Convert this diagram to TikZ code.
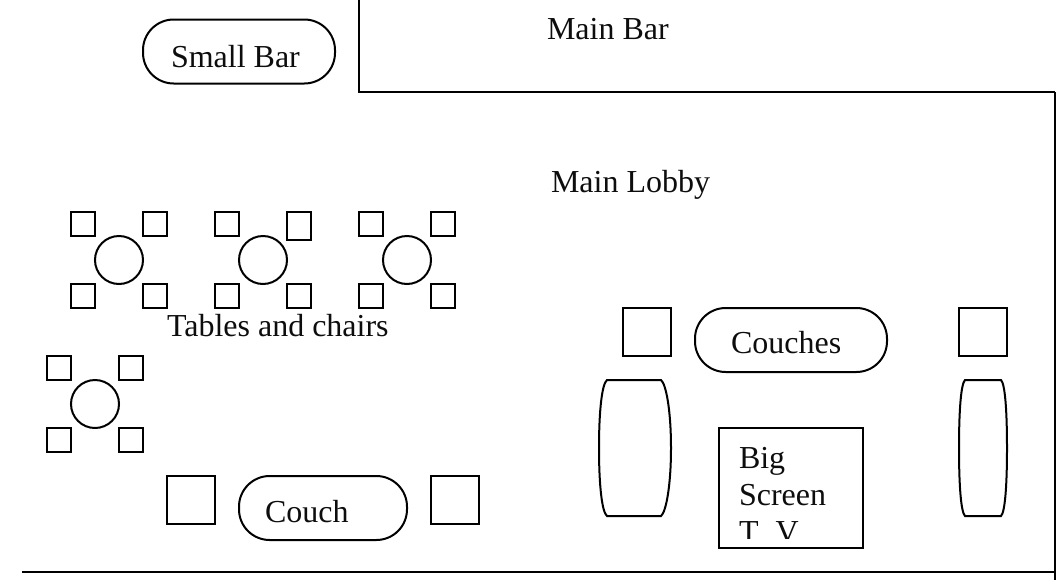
\documentclass[tikz,border=0pt]{standalone}
\usepackage{fontspec}
\setmainfont{Liberation Serif}
\begin{document}
\begin{tikzpicture}[x=0.75pt,y=-0.75pt,
  ln/.style={draw=black,line width=1.5pt},
  pill/.style={ln,rounded corners=23pt},
  label/.style={anchor=base west,inner sep=0pt,outer sep=0pt,font=\fontsize{24pt}{28pt}\selectfont,text=black!95}]
\useasboundingbox (0,0) rectangle (1057,579);
% walls
\draw[ln] (359,-2) -- (359,92) -- (1054.5,92);
\draw[ln] (1054.5,92) -- (1054.5,581);
\draw[ln] (22,571.8) -- (1054.5,571.8);
% bar
\draw[pill] (143,19.5) rectangle (335,83.5);
\node[label] (smallbar) at (171,67) {Small Bar};
\node[label] (mainbar) at (547,39) {Main Bar};
\node[label] (lobby) at (551,192) {Main Lobby};
% tables
\foreach \cx/\cy/\ex in {119/260/0,263/260/4,407/260/0,95/404/0}{
  \draw[ln] (\cx,\cy) circle (24);
  \draw[ln] (\cx-48,\cy-48) rectangle (\cx-24,\cy-24);
  \draw[ln] (\cx+24,\cy-48) rectangle (\cx+48,\cy-24+\ex);
  \draw[ln] (\cx-48,\cy+24) rectangle (\cx-24,\cy+48);
  \draw[ln] (\cx+24,\cy+24) rectangle (\cx+48,\cy+48);
}
\node[label] (tables) at (167,336) {Tables and chairs};
% couch
\draw[ln] (167,476) rectangle (215,524);
\draw[ln] (431,476) rectangle (479,524);
\draw[pill] (239,476) rectangle (407,540);
\node[label] (couch) at (265,522) {Couch};
% couches
\draw[ln] (623,308) rectangle (671,356);
\draw[ln] (959,308) rectangle (1007,356);
\draw[pill] (695,308) rectangle (887,372);
\node[label] (couches) at (731,353) {Couches};
\draw[ln] (607,380) -- (661,380) .. controls (666,384) and (671,410) .. (671,448) .. controls (671,486) and (666,512) .. (661,516) -- (607,516) .. controls (602,512) and (599,486) .. (599,448) .. controls (599,410) and (602,384) .. (607,380) -- cycle;
\draw[ln] (965,380) -- (1001,380) .. controls (1005,384) and (1007,410) .. (1007,448) .. controls (1007,486) and (1005,512) .. (1001,516) -- (965,516) .. controls (961,512) and (959,486) .. (959,448) .. controls (959,410) and (961,384) .. (965,380) -- cycle;
% tv
\draw[ln] (719,428) rectangle (863,548);
\node[label] (big) at (739,468) {Big};
\node[label] (screen) at (739,505) {Screen};
\begin{scope}
\clip (730,515) rectangle (820,538);
\node[label] (tv) at (739,542) {T};
\node[label] (tvb) at (775.5,542) {V};
\end{scope}
\end{tikzpicture}
\end{document}
